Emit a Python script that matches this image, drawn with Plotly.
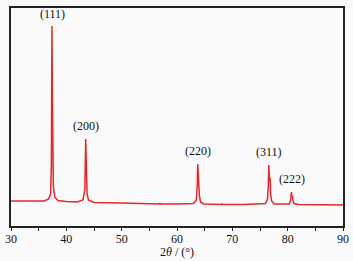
import plotly.graph_objects as go

two_theta = [30, 34, 36, 36.8, 37.15, 37.3, 37.4, 37.5, 37.65, 37.9, 38.5, 40, 42, 43.0, 43.35, 43.5,
             43.6, 43.75, 44.0, 44.6, 45, 50, 55, 56.8, 56.9, 57.0, 60, 63.0, 63.5, 63.65, 63.75, 63.85,
             63.95, 64.05, 64.25, 64.8, 68, 68.1, 68.2, 72, 76.0, 76.35, 76.5, 76.6, 76.72, 76.82,
             76.92, 77.1, 77.6, 80.3, 80.55, 80.68, 80.78, 80.88, 80.98, 81.15, 82, 86, 90]
intensity = [25, 24.5, 25, 27, 32, 60, 200, 120, 40, 29, 25.5, 24.5, 24, 26, 36, 87,
             70, 32, 26, 24, 23.5, 23, 22.5, 22, 23, 22, 22, 22.5, 26, 40, 62, 48,
             50, 30, 24, 22, 21.5, 22.5, 21.5, 21.5, 22.5, 27, 40, 61, 45, 48,
             32, 25, 22, 22, 26, 34, 29, 30, 25, 22.5, 21.5, 21, 21]

peak_labels = ["(111)", "(200)", "(220)", "(311)", "(222)"]
peak_x = [37.45, 43.55, 63.75, 76.6, 80.75]
peak_y = [203, 91, 66, 65, 38]

fig = go.Figure()
fig.add_trace(go.Scatter(x=two_theta, y=intensity, mode="lines",
                         line=dict(color="#e8262a", width=1.5), showlegend=False))

for t, x, y in zip(peak_labels, peak_x, peak_y):
    fig.add_annotation(x=x, y=y, text=t, showarrow=False, yanchor="bottom",
                       font=dict(family="Liberation Serif", size=12, color="#111"))

fig.add_annotation(xref="paper", yref="paper", x=0.5, y=-0.12, yanchor="middle",
                   text="2<i>θ</i> / (°)", showarrow=False,
                   font=dict(family="Liberation Serif", size=12, color="#111"))

fig.update_layout(
    width=353, height=261,
    margin=dict(l=11, r=10, t=8, b=35),
    paper_bgcolor="#fafafa", plot_bgcolor="#fafafa",
    font=dict(family="Liberation Serif", size=12, color="#111"),
)
fig.update_xaxes(range=[30, 90], tickvals=[30, 40, 50, 60, 70, 80, 90],
                 ticks="outside", ticklen=3, tickwidth=1, tickcolor="#222",
                 minor=dict(tickvals=[35, 45, 55, 65, 75, 85], ticks="outside", ticklen=3, tickcolor="#222"),
                 showline=True, linewidth=1.5, linecolor="#222", mirror=True,
                 showgrid=False, zeroline=False, automargin=False,
                 ticklabelstandoff=-2, ticklabeloverflow="allow", tickfont=dict(size=12))
fig.update_yaxes(range=[0, 218], showticklabels=False, ticks="",
                 showline=True, linewidth=1.5, linecolor="#222", mirror=True,
                 showgrid=False, zeroline=False, automargin=False)

fig.write_html("out.html", config={"displayModeBar": False},
               post_script="document.body.style.margin='0';")
